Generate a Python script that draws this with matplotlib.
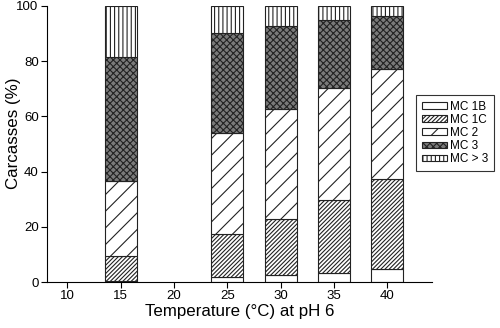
import matplotlib
matplotlib.use("Agg")
import matplotlib.pyplot as plt

plt.rcParams['font.family'] = ['Liberation Sans', 'DejaVu Sans']
plt.rcParams['hatch.linewidth'] = 0.8

# Data (% of carcasses per stage)
temps = [15, 25, 30, 35, 40]
mc_1b = [0.5, 1.7, 2.4, 3.4, 4.6]
mc_1c = [8.9, 15.6, 20.5, 26.3, 32.8]
mc_2 = [27.3, 36.8, 39.7, 40.7, 39.7]
mc_3 = [44.9, 36.0, 30.2, 24.5, 19.3]
mc_gt3 = [18.4, 9.9, 7.2, 5.1, 3.6]
labels = ["MC 1B", "MC 1C", "MC 2", "MC 3", "MC > 3"]
xticks = [10, 15, 20, 25, 30, 35, 40]

series = [mc_1b, mc_1c, mc_2, mc_3, mc_gt3]
hatches = ["", "////////", "//", "xxxxx", "||||"]
faces = ["white", "white", "white", "#7a7a7a", "white"]

fig = plt.figure(figsize=(5, 3.28), dpi=100)
ax = fig.add_axes([0.094, 0.140, 0.77, 0.842])

bottom = [0.0] * len(temps)
for vals, h, fc, lab in zip(series, hatches, faces, labels):
    ax.bar(temps, vals, width=3, bottom=bottom, color=fc, edgecolor="#222222",
           hatch=h, linewidth=0.8, label=lab)
    bottom = [b + v for b, v in zip(bottom, vals)]

ax.set_xlim(8.1, 44.2)
ax.set_ylim(0, 100)
ax.set_xticks(xticks)
ax.set_yticks([0, 20, 40, 60, 80, 100])
ax.tick_params(labelsize=9.5, length=4, width=0.8, pad=2)
ax.spines['top'].set_visible(False)
ax.spines['right'].set_visible(False)
ax.set_xlabel("Temperature (°C) at pH 6", fontsize=12.2, labelpad=1)
ax.set_ylabel("Carcasses (%)", fontsize=12.2)
ax.yaxis.set_label_coords(-0.068, 0.54)

leg = ax.legend(loc="center left", bbox_to_anchor=(0.958, 0.54), fontsize=8.5,
                frameon=True, fancybox=False, edgecolor="black",
                handlelength=2.1, handleheight=0.5, handletextpad=0.3,
                labelspacing=0.1, borderpad=0.5, borderaxespad=0)
leg.get_frame().set_linewidth(0.8)

fig.savefig("out.png", dpi=100)
